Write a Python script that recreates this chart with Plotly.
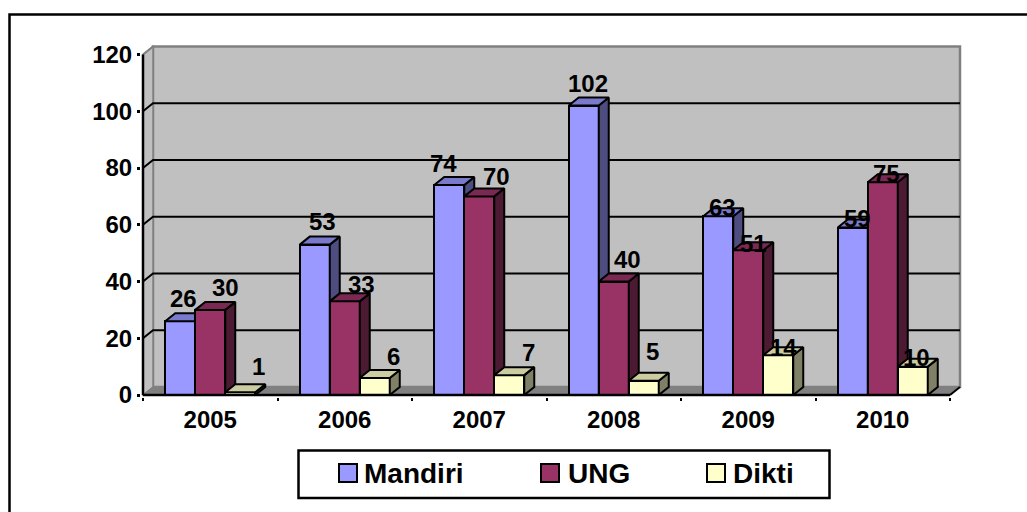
import plotly.graph_objects as go

years = ["2005", "2006", "2007", "2008", "2009", "2010"]
series_names = ["Mandiri", "UNG", "Dikti"]
mandiri = [26, 53, 74, 102, 63, 59]
ung = [30, 33, 70, 40, 51, 75]
dikti = [1, 6, 7, 5, 14, 10]
all_values = [mandiri, ung, dikti]
y_ticks = [0, 20, 40, 60, 80, 100, 120]

front_colors = ["#9999FF", "#993366", "#FFFFCC"]
side_colors = ["#4D4D80", "#4D1A33", "#808066"]
top_colors = ["#7A7ACC", "#7A2952", "#CCCCA3"]

# label nudges in pixels (x right, y up) relative to each bar's top centre
label_dx = [[3, 8, -6, 4, 4, 5], [15, 17, 17, 14, 5, 4], [18, 19, 19, 9, 5, 4]]
label_dy = [[23, 23, 22, 22, 9, 9], [22, 17, 20, 22, 7, 9], [26, 21, 23, 29, 8, 9]]

FONT = "Liberation Sans"
CAT_PX = 134.5
Y_PX = 2.8375
BAR_W = 30 / CAT_PX
DX = 10 / CAT_PX
DY = 8 / Y_PX
L, R, T, B = 141, 962, 45, 397
x_range = [-0.5 - 2 / CAT_PX, -0.5 + (R - 143) / CAT_PX]
y_range = [-(B - 395) / Y_PX, (395 - T) / Y_PX]
XL, XR = -0.5, 5.5
YTOP = 120

fig = go.Figure()

def poly(xs, ys):
    return "M" + " L".join(f"{a},{b}" for a, b in zip(xs, ys)) + " Z"

def add_poly(xs, ys, fill, line="#808080", w=0):
    fig.add_shape(type="path", path=poly(xs, ys), xref="x", yref="y", layer="below",
                  fillcolor=fill, line=dict(color=line, width=w))

# walls and floor
add_poly([XL + DX, XR + DX, XR + DX, XL + DX], [DY, DY, YTOP + DY, YTOP + DY], "#C0C0C0", "#808080", 2.5)
add_poly([XL, XL + DX, XL + DX, XL], [0, DY, YTOP + DY, YTOP], "#C0C0C0", "#808080", 1.5)
add_poly([XL, XR, XR + DX, XL + DX], [0, 0, DY, DY], "#808080", "#808080", 1)

# gridlines on the walls
for t in y_ticks[1:-1]:
    fig.add_shape(type="path", path=f"M{XL},{t} L{XL + DX},{t + DY} L{XR + DX},{t + DY}",
                  xref="x", yref="y", layer="below", line=dict(color="black", width=2))
fig.add_shape(type="path", path=f"M{XL},{YTOP} L{XL + DX},{YTOP + DY}", xref="x", yref="y",
              layer="below", line=dict(color="#808080", width=2))
fig.add_shape(type="path", path=f"M{XR},0 L{XR + DX},{DY}", xref="x", yref="y",
              layer="above", line=dict(color="black", width=2))

# axis lines
fig.add_shape(type="line", x0=XL, x1=XL, y0=0, y1=YTOP, xref="x", yref="y", line=dict(color="black", width=2.5))
fig.add_shape(type="line", x0=XL, x1=XR, y0=0, y1=0, xref="x", yref="y", line=dict(color="black", width=2.5))

for k, (name, vals) in enumerate(zip(series_names, all_values)):
    suffix = "" if k == 0 else str(k + 1)
    xa, ya = "x" + suffix, "y" + suffix
    xc = [i + (k - 1) * BAR_W for i in range(len(years))]
    fig.add_trace(go.Bar(x=xc, y=vals, width=BAR_W, name=name, xaxis=xa, yaxis=ya,
                         marker=dict(color=front_colors[k], line=dict(color="black", width=2)),
                         showlegend=False))
    sx, sy, tx, ty = [], [], [], []
    for c, v in zip(xc, vals):
        a, b = c - BAR_W / 2, c + BAR_W / 2
        sx += [b, b + DX, b + DX, b, b, None]
        sy += [0, DY, v + DY, v, 0, None]
        tx += [a, a + DX, b + DX, b, a, None]
        ty += [v, v + DY, v + DY, v, v, None]
    for px, py, col in ((sx, sy, side_colors[k]), (tx, ty, top_colors[k])):
        fig.add_trace(go.Scatter(x=px, y=py, mode="lines", fill="toself", fillcolor=col,
                                 line=dict(color="black", width=2), xaxis=xa, yaxis=ya,
                                 showlegend=False, hoverinfo="skip"))
    for i, (c, v) in enumerate(zip(xc, vals)):
        fig.add_annotation(x=c, y=v, xref="x", yref="y", text=str(v), showarrow=False,
                           xshift=label_dx[k][i], yshift=label_dy[k][i],
                           font=dict(family=FONT, size=24, color="black", weight=700))

W, H = R - L, B - T
def px_x(p): return (p - L) / W
def px_y(p): return (B - p) / H

# outer frame (open on right and bottom, as in the picture)
fig.add_shape(type="path", xref="paper", yref="paper", layer="below",
              path=f"M{px_x(9.5)},{px_y(514)} L{px_x(9.5)},{px_y(14.5)} L{px_x(1029)},{px_y(14.5)}",
              line=dict(color="black", width=2.5))

# legend box, swatches and names
fig.add_shape(type="rect", xref="paper", yref="paper", x0=px_x(298.5), x1=px_x(829.5),
              y0=px_y(498), y1=px_y(450.5), fillcolor="white", line=dict(color="black", width=2.5))
legend_swatch_px = [339, 541, 707]
legend_text_px = [363, 567, 732]
for k, name in enumerate(series_names):
    s = legend_swatch_px[k]
    fig.add_shape(type="rect", xref="paper", yref="paper", x0=px_x(s), x1=px_x(s + 18),
                  y0=px_y(482), y1=px_y(464), fillcolor=front_colors[k], line=dict(color="black", width=2))
    fig.add_annotation(xref="paper", yref="paper", x=px_x(legend_text_px[k] - 1), y=px_y(473),
                       text=name, showarrow=False, xanchor="left", yanchor="middle",
                       font=dict(family=FONT, size=28, color="black", weight=700))

tick_font = dict(family=FONT, size=24, color="black", weight=700)
hidden = dict(visible=False, overlaying="y", range=y_range, fixedrange=True)
fig.update_layout(
    width=1027, height=512, autosize=False,
    margin=dict(l=L, r=1027 - R, t=T, b=512 - B, pad=0),
    paper_bgcolor="white", plot_bgcolor="white",
    barmode="overlay", bargap=0, showlegend=False,
    xaxis=dict(range=x_range, tickmode="array", tickvals=list(range(6)), ticktext=years,
               ticks="outside", ticklen=1, tickcolor="rgba(0,0,0,0)", showgrid=False, zeroline=False,
               showline=False, tickfont=tick_font, fixedrange=True),
    yaxis=dict(range=y_range, tickmode="array", tickvals=y_ticks, ticks="outside", ticklen=3,
               tickwidth=2.5, tickcolor="black", showgrid=False, zeroline=False, showline=False,
               tickfont=tick_font, fixedrange=True),
    xaxis2=dict(range=x_range, overlaying="x", anchor="y2", tickmode="array",
                tickvals=[i - 0.5 for i in range(7)], ticktext=[""] * 7, ticks="outside", ticklen=3,
                tickwidth=2, tickcolor="black", showgrid=False, zeroline=False, showline=False,
                fixedrange=True),
    xaxis3=dict(range=x_range, overlaying="x", anchor="y3", visible=False, fixedrange=True),
    yaxis2=dict(anchor="x2", **hidden),
    yaxis3=dict(anchor="x3", **hidden),
)

fig.write_html("out.html", config={"displayModeBar": False},
               post_script="document.body.style.margin='0';document.body.style.overflow='hidden';")
